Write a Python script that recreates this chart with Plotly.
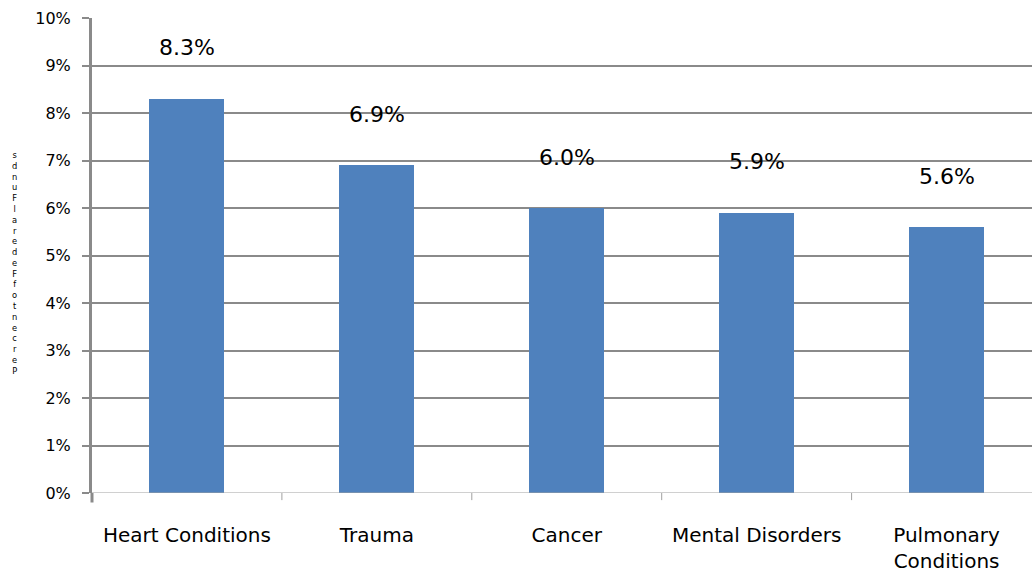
import plotly.graph_objects as go

categories = ["Heart Conditions", "Trauma", "Cancer", "Mental Disorders", "Pulmonary<br>Conditions"]
values = [8.3, 6.9, 6.0, 5.9, 5.6]
value_labels = ["8.3%", "6.9%", "6.0%", "5.9%", "5.6%"]
y_ticks = [0, 1, 2, 3, 4, 5, 6, 7, 8, 9, 10]
y_title = "Percent of Federal Funds"

FONT = "DejaVu Sans"
GRID = "#8a8a8a"

fig = go.Figure()
fig.add_trace(go.Bar(
    x=list(range(len(categories))),
    y=values,
    width=0.395,
    marker=dict(color="#4f81bd", line=dict(width=0)),
    hoverinfo="skip",
))

# value labels floating above each bar
for i, (v, lab) in enumerate(zip(values, value_labels)):
    fig.add_annotation(
        x=i, y=v, text=lab, showarrow=False,
        yanchor="middle", yshift=51,
        font=dict(family=FONT, size=22, color="#000000"),
    )

# garbled stacked y-axis title, letters stacked bottom to top
letters = [c for c in y_title.replace(" ", "")][::-1]
fig.add_annotation(
    xref="paper", yref="paper", x=-0.082, y=0.485,
    text="<br>".join(letters), showarrow=False,
    font=dict(family=FONT, size=8.3, color="#000000"),
    xanchor="center", yanchor="middle",
)

fig.update_layout(
    width=1032, height=578,
    margin=dict(l=92, r=0, t=18, b=85, autoexpand=False),
    plot_bgcolor="white", paper_bgcolor="white",
    showlegend=False,
    bargap=0,
)
fig.update_xaxes(
    range=[-0.5, 4.45],
    tickmode="array", tickvals=list(range(len(categories))), ticktext=categories,
    ticks="", showgrid=False, zeroline=False,
    showline=False, automargin=False,
    tickfont=dict(family=FONT, size=20, color="#000000"),
    ticklabelstandoff=28,
)
fig.update_yaxes(
    range=[0, 10],
    tickmode="array", tickvals=y_ticks, ticktext=[f"{t}%" for t in y_ticks],
    ticks="outside", ticklen=7, tickwidth=2, tickcolor=GRID,
    showgrid=True, gridcolor=GRID, gridwidth=2,
    showline=True, linecolor=GRID, linewidth=3,
    zeroline=False, automargin=False,
    tickfont=dict(family=FONT, size=16, color="#000000"),
    ticklabelstandoff=8,
)

# category separator ticks under the baseline
for b in [0.5, 1.5, 2.5, 3.5]:
    fig.add_shape(type="line", xref="x", yref="paper", x0=b, x1=b, y0=0, y1=-0.015,
                  line=dict(color="#a0a0a0", width=1))
fig.add_shape(type="line", xref="paper", yref="y", x0=0, x1=1, y0=0, y1=0,
              line=dict(color="#a0a0a0", width=1))
fig.add_shape(type="line", xref="paper", yref="paper", x0=0, x1=0, y0=0, y1=-0.02,
              line=dict(color=GRID, width=3))

# the page's default body margin shifts the chart; remove it
fig.write_html(
    "out.html",
    config={"displayModeBar": False},
    post_script="document.body.style.margin='0';document.body.style.overflow='hidden';",
)
